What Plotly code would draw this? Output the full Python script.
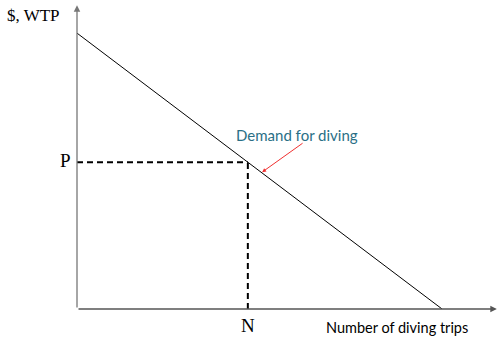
import plotly.graph_objects as go

# Data (arbitrary units)
demand_x = [0, 10]
demand_y = [10, 0]
N = 4.68
P = 5.32
x_label = "Number of diving trips"
y_label = "$, WTP"
curve_label = "Demand for diving"

fig = go.Figure()
fig.add_trace(go.Scatter(x=demand_x, y=demand_y, mode="lines",
                         line=dict(color="black", width=1), hoverinfo="skip"))
fig.add_trace(go.Scatter(x=[0, N], y=[P, P], mode="lines",
                         line=dict(color="black", width=2, dash="6px,4px"), hoverinfo="skip"))
fig.add_trace(go.Scatter(x=[N, N], y=[0, P], mode="lines",
                         line=dict(color="black", width=2, dash="6px,4px"), hoverinfo="skip"))

ann = []
# axes with arrows
ann.append(dict(x=0, y=11.01, ax=0, ay=0, xref="x", yref="y", axref="x", ayref="y",
                showarrow=True, arrowhead=2, arrowsize=1, arrowwidth=1.3,
                arrowcolor="#777", text=""))
ann.append(dict(x=11.5, y=0, ax=0, ay=0, xref="x", yref="y", axref="x", ayref="y",
                showarrow=True, arrowhead=2, arrowsize=1, arrowwidth=1.3,
                arrowcolor="#555", text=""))
# labels (paper coordinates so they can sit outside the plot area)
ann.append(dict(x=-0.171, y=0.951, xref="paper", yref="paper", text=y_label, showarrow=False,
                font=dict(family="Liberation Serif", size=17, color="black"),
                xanchor="left", yanchor="middle"))
ann.append(dict(x=-0.0095, y=0.479, xref="paper", yref="paper", text="P", showarrow=False,
                font=dict(family="Liberation Serif", size=19, color="black"),
                xanchor="right", yanchor="middle"))
ann.append(dict(x=0.405, y=-0.055, xref="paper", yref="paper", text="N", showarrow=False,
                font=dict(family="Liberation Serif", size=19, color="black"),
                xanchor="center", yanchor="middle"))
ann.append(dict(x=0.931, y=-0.061, xref="paper", yref="paper", text=x_label, showarrow=False,
                font=dict(family="Lato", size=14.5, color="black"),
                xanchor="right", yanchor="middle"))
ann.append(dict(x=0.521, y=0.563, xref="paper", yref="paper", text=curve_label, showarrow=False,
                font=dict(family="Lato", size=15, color="#2a6f86"),
                xanchor="center", yanchor="middle"))
ann.append(dict(x=5.07, y=4.96, xref="x", yref="y", ax=42, ay=-30, text="",
                showarrow=True, arrowhead=2, arrowsize=0.8, arrowwidth=1,
                arrowcolor="#f03030"))

fig.update_layout(
    width=499, height=341,
    margin=dict(l=77, r=0, t=0, b=32),
    plot_bgcolor="white", paper_bgcolor="white",
    showlegend=False,
    annotations=ann,
    xaxis=dict(range=[0, 11.56], visible=False, fixedrange=True),
    yaxis=dict(range=[0, 11.2], visible=False, fixedrange=True),
)
fig.write_html("out.html", config={"displayModeBar": False},
               post_script="document.body.style.margin='0';")
